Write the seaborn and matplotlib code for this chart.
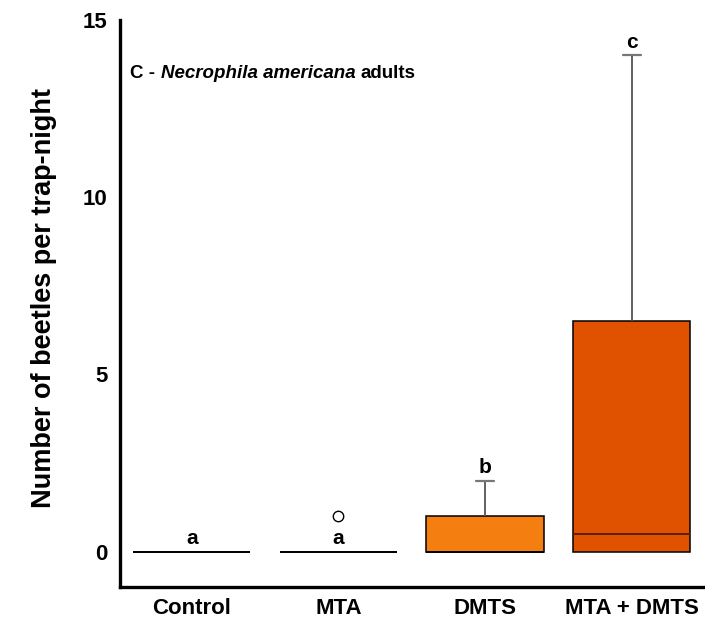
import numpy as np
import pandas as pd
import matplotlib
matplotlib.use("Agg")
import matplotlib.pyplot as plt
import matplotlib.colors as mcolors
import seaborn as sns

# ---- data ----
categories = ["Control", "MTA", "DMTS", "MTA + DMTS"]
control = [0, 0, 0, 0, 0, 0, 0, 0]
mta = [0, 0, 0, 0, 0, 0, 0, 1]
dmts = [0, 0, 0, 0, 0, 1, 1, 2]
mta_dmts = [0, 0, 0, 0, 1, 6, 8, 14]
letters = ["a", "a", "b", "c"]
colors = ["#ffffff", "#ffffff", "#F47F10", "#E05200"]
y_ticks = [0, 5, 10, 15]

groups = [control, mta, dmts, mta_dmts]
df = pd.DataFrame({
    "group": np.repeat(categories, [len(g) for g in groups]),
    "value": np.concatenate([np.asarray(g, float) for g in groups]),
})
palette = dict(zip(categories, colors))

sns.set_style("white")
plt.rcParams["font.family"] = ["Liberation Sans", "DejaVu Sans"]
plt.rcParams["font.weight"] = "bold"
plt.rcParams["text.color"] = "black"
plt.rcParams["axes.labelcolor"] = "black"

MEDIAN_COLOR = "#5a2200"
CAP_COLOR = "#777777"

fig = plt.figure(figsize=(7.05, 6.24), dpi=100)
ax = fig.add_axes([120 / 705, 37 / 624, 585 / 705, 567 / 624])

sns.boxplot(
    data=df, x="group", y="value", hue="group", order=categories,
    hue_order=categories, palette=palette, legend=False, width=0.8,
    whis=1.5, ax=ax, saturation=1,
    boxprops=dict(edgecolor="black", linewidth=1.1),
    whiskerprops=dict(color="#555555", linewidth=1.3),
    capprops=dict(color=CAP_COLOR, linewidth=1.6),
    medianprops=dict(color=MEDIAN_COLOR, linewidth=1.4),
    flierprops=dict(marker="o", markerfacecolor="white",
                    markeredgecolor="black", markersize=7.5,
                    markeredgewidth=1.0),
    capwidths=0.123,
)

# lines lying on the zero baseline: medians read black, lower caps hidden
for ln in ax.lines:
    yd = np.asarray(ln.get_ydata(), float)
    if not (yd.size and np.allclose(yd, 0)):
        continue
    c = mcolors.to_hex(ln.get_color())
    if c == MEDIAN_COLOR.lower():
        ln.set_color("black")
    elif c == CAP_COLOR.lower():
        ln.set_visible(False)

ax.set_xlim(-0.49, 3.5)
ax.set_ylim(-1, 15)
ax.set_yticks(y_ticks)
ax.set_xlabel("")
ax.set_ylabel("Number of beetles per trap-night", fontsize=19.5,
              fontweight="bold", color="black")
ax.yaxis.set_label_coords(-0.108, 0.51)

for s in ["top", "right"]:
    ax.spines[s].set_visible(False)
for s in ["left", "bottom"]:
    ax.spines[s].set_linewidth(2.4)
    ax.spines[s].set_color("black")
ax.grid(False)

ax.tick_params(axis="y", direction="in", length=8, width=2.2,
               labelsize=16, pad=9, colors="black")
ax.tick_params(axis="x", length=0, labelsize=16, pad=8, colors="black")
for lab in ax.get_xticklabels() + ax.get_yticklabels():
    lab.set_fontweight("bold")

# significance letters above upper whiskers
for i, g in enumerate(groups):
    v = np.asarray(g, float)
    q1, q3 = np.percentile(v, [25, 75])
    fence = q3 + 1.5 * (q3 - q1)
    top = v[v <= fence].max()
    ax.text(i, top + 0.1, letters[i], ha="center", va="bottom",
            fontsize=15, fontweight="bold", color="black")

# panel title
t1 = ax.text(0.017, 0.905, "C -", transform=ax.transAxes, ha="left",
             va="center", fontsize=13.5, fontweight="bold", color="black")
t2 = ax.annotate("Necrophila americana", xy=(1, 0), xycoords=t1,
                 xytext=(4, 0), textcoords="offset points", ha="left",
                 va="bottom", fontsize=13.5, fontweight="bold",
                 fontstyle="italic", color="black")
t3 = ax.annotate("adults", xy=(1, 0), xycoords=t2, xytext=(4, 0),
                 textcoords="offset points", ha="left", va="bottom",
                 fontsize=13.5, fontweight="bold", color="black")

fig.savefig("out.png", dpi=100)
